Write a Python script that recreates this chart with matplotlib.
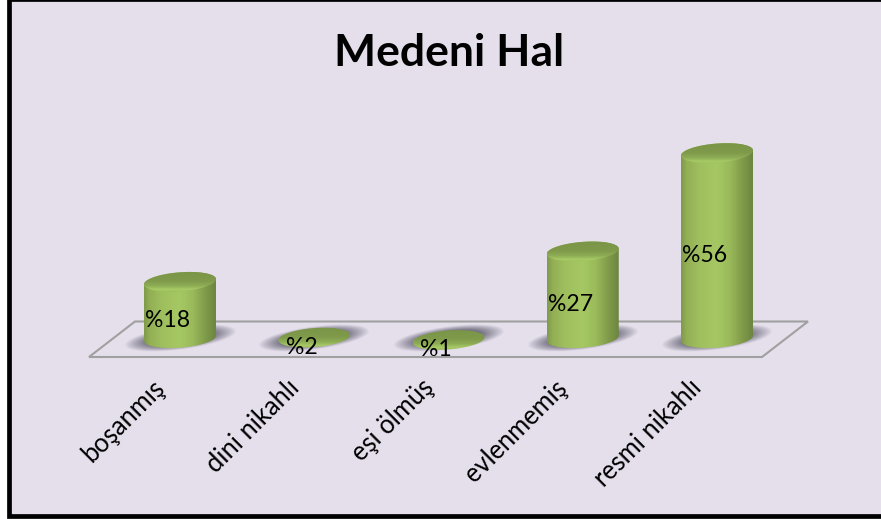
#!/usr/bin/env python3
"""
Medeni Hal - 3D gorunumlu silindir grafik
"""
import numpy as np
import matplotlib
matplotlib.use('Agg')
import matplotlib.pyplot as plt
from matplotlib.colors import LinearSegmentedColormap
from matplotlib.patches import Polygon, Rectangle
from matplotlib.transforms import ScaledTranslation

plt.rcParams['font.family'] = ['Lato', 'DejaVu Sans']

# veri
categories = ['boşanmış', 'dini nikahlı', 'eşi ölmüş', 'evlenmemiş', 'resmi nikahlı']
value_labels = ['%18', '%2', '%1', '%27', '%56']
heights = [17.9, 1.4, 0.7, 26.9, 56.0]

W, H = 881, 519
X_PX = 134.25   # bir kategori kac piksel
Y_PX = 3.38     # bir birim kac piksel
ZERO_PX = 342.3
FLOOR_PX = 357
X0_PX = 180
BASE_V = 1.2    # silindir tabani
A, B, TILT = 36, 9.5, 2.6

body_cmap = LinearSegmentedColormap.from_list('body', [
    (0.0, '#7f9a4a'), (0.08, '#93b055'), (0.25, '#9fbf5e'), (0.5, '#a6c863'),
    (0.68, '#9aba5b'), (0.85, '#819c4b'), (1.0, '#6c8540')])
top_cmap = LinearSegmentedColormap.from_list('top', [
    (0.0, '#7a9447'), (0.5, '#7f9a4a'), (0.72, '#8dab54'), (0.9, '#a9cc66'), (1.0, '#9aba5c')])

fig = plt.figure(figsize=(W / 100, H / 100), dpi=100, facecolor='white')
fig.patches.append(Rectangle((9 / W, 1 - 515.5 / H), 900 / W, 517 / H, transform=fig.transFigure,
                             facecolor='#e5dfec', edgecolor='black', linewidth=3.4, zorder=-5))

ax = fig.add_axes([0, 1 - FLOOR_PX / H, 1, FLOOR_PX / H])
ax.patch.set_alpha(0)
xlim = (-X0_PX / X_PX, (W - X0_PX) / X_PX)
ylim = ((ZERO_PX - FLOOR_PX) / Y_PX, ZERO_PX / Y_PX)


def dx(px):
    return px / X_PX


def dy(px):
    return px / Y_PX


def ellipse(xc, v, t):
    # egik elips, t acisi ile noktalar
    return xc + dx(A * np.cos(t)), v + dy(B * np.sin(t) + TILT * np.cos(t))


# zemin
floor = Polygon([(-dx(91), -dy(FLOOR_PX - ZERO_PX)), (dx(582), -dy(FLOOR_PX - ZERO_PX)),
                 (dx(628), dy(ZERO_PX - 321.5)), (-dx(45), dy(ZERO_PX - 321.5))],
                closed=True, fill=False, edgecolor='#a0a0a0', linewidth=1.5, clip_on=False, zorder=1)
ax.add_patch(floor)

# golgeler
sx = np.linspace(-1, 1, 160)
sy = np.linspace(-1, 1, 60)
gx, gy = np.meshgrid(sx, sy)
shadow = np.zeros((60, 160, 4))
shadow[..., :3] = matplotlib.colors.to_rgb('#6f6c7c')
for i in range(len(categories)):
    shear = gy + 0.45 * gx
    alpha = np.clip(2.4 - np.sqrt((gx / 0.98) ** 2 + (shear / 0.74) ** 2) * 2.4, 0, 1) ** 0.9
    shadow[..., 3] = alpha * 0.95
    ax.imshow(shadow.copy(), extent=(i - dx(57), i + dx(57), dy(ZERO_PX - 354), dy(ZERO_PX - 322)),
              origin='upper', aspect='auto', zorder=2, interpolation='bilinear')

t = np.linspace(0, 2 * np.pi, 160)
lower = np.linspace(np.pi, 2 * np.pi, 80)
upper = np.linspace(0, np.pi, 80)
grad_h = np.linspace(0, 1, 200).reshape(1, -1)
grad_v = np.linspace(0, 1, 100).reshape(-1, 1)

for i, (val, lab) in enumerate(zip(heights, value_labels)):
    v_top = val
    if val > BASE_V * 3:
        bx, by = ellipse(i, BASE_V, lower)
        tx, ty = ellipse(i, v_top, upper)
        body = Polygon(np.column_stack([np.r_[bx, tx], np.r_[by, ty]]), closed=True,
                       facecolor='none', edgecolor='none')
        ax.add_patch(body)
        im = ax.imshow(grad_h, extent=(i - dx(A), i + dx(A), BASE_V - dy(B + 3), v_top + dy(B + 3)),
                       cmap=body_cmap, aspect='auto', zorder=3, interpolation='bilinear')
        im.set_clip_path(body)
    ex, ey = ellipse(i, v_top, t)
    cap = Polygon(np.column_stack([ex, ey]), closed=True, facecolor='none', edgecolor='none')
    ax.add_patch(cap)
    im = ax.imshow(grad_v, extent=(i - dx(A), i + dx(A), v_top - dy(B + 1), v_top + dy(B + 3)),
                   cmap=top_cmap, aspect='auto', zorder=4, interpolation='bilinear', origin='upper')
    im.set_clip_path(cap)
    # deger etiketi
    ax.annotate(lab, xy=(i, val / 2), xytext=(-12.5 * 0.72, -8 * 0.72), textcoords='offset points',
                ha='center', va='center', fontsize=16.6, color='black', zorder=6,
                annotation_clip=False)

ax.set_xlim(xlim)
ax.set_ylim(ylim)
ax.set_yticks([])
ax.set_xticks(range(len(categories)))
ax.set_xticklabels(categories, rotation=45, ha='right', va='top', rotation_mode='anchor', fontsize=18.4)
ax.tick_params(axis='x', length=0, pad=13)
shift = ScaledTranslation(-28 / 100, 0, fig.dpi_scale_trans)
for tl in ax.get_xticklabels():
    tl.set_transform(tl.get_transform() + shift)
for s in ax.spines.values():
    s.set_visible(False)

fig.text(449.5 / W, 1 - 53 / H, 'Medeni Hal', ha='center', va='center', fontsize=32, fontweight='bold', color='black')

fig.savefig('out.png', dpi=100, facecolor=fig.get_facecolor())
